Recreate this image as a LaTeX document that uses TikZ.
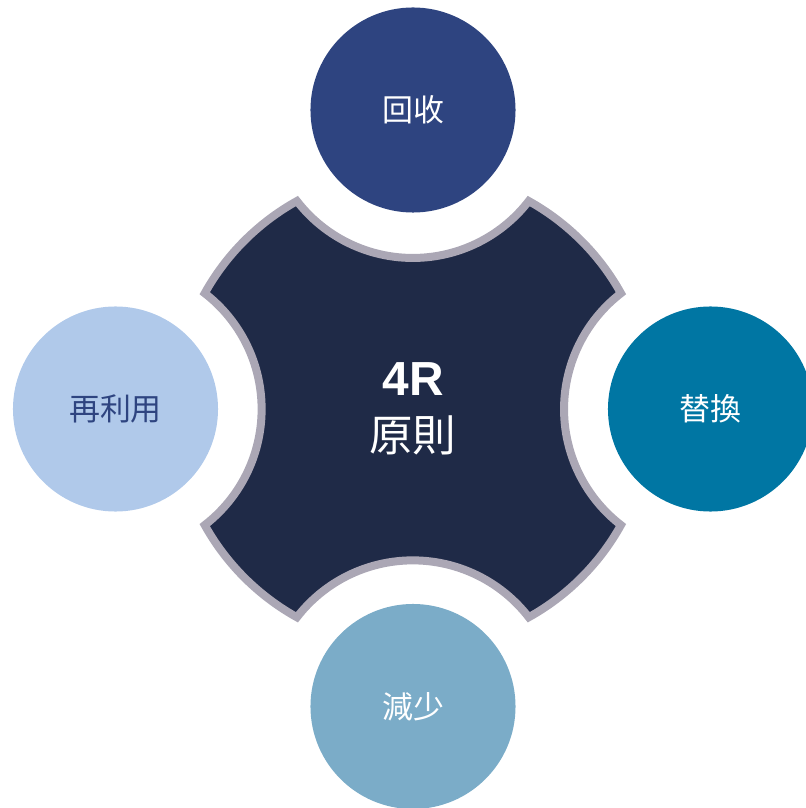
\documentclass[tikz,border=0pt]{standalone}
\usepackage{fontspec}
\setmainfont{Noto Sans CJK TC}
\newfontfamily\arialfont{Liberation Sans}
\definecolor{coreblue}{HTML}{1F2A47}
\definecolor{rimgray}{HTML}{ABA7B5}
\definecolor{topblue}{HTML}{2E4480}
\definecolor{tealblue}{HTML}{0076A3}
\definecolor{mistblue}{HTML}{7BACC8}
\definecolor{paleblue}{HTML}{B0C9EA}

\begin{document}
\begin{tikzpicture}[
    x=0.025cm, y=0.025cm,
    petal/.style={circle, minimum size=5.125cm, inner sep=0pt,
                  font=\fontsize{22}{26}\selectfont},
  ]
  \useasboundingbox (-413,-399) rectangle (392,409);
  % the cross with four bites
  \filldraw[fill=coreblue, draw=rimgray, line width=0.2cm]
    (29.1:238)
    \foreach \a in {0,-90,-180,-270} {
      arc[start angle=\a+127.7, end angle=\a+232.3, radius=146.5]
      arc[start angle=\a-29.1, end angle=\a-60.9, radius=238]
    } -- cycle;
  \node[petal, fill=topblue, text=white] (recover) at (90:299) {回收};
  \node[petal, fill=tealblue, text=white] (replace) at (0:297.5) {替換};
  \node[petal, fill=mistblue, text=white] (reduce) at (-90:297.5) {減少};
  \node[petal, fill=paleblue, text=topblue] (reuse) at (180:297.5) {再利用};
  \node[text=white, align=center, font=\fontsize{31}{40}\selectfont]
    (core) at (0,0) {{\arialfont\bfseries\fontsize{34}{40}\selectfont 4R}\\原則};
\end{tikzpicture}
\end{document}
